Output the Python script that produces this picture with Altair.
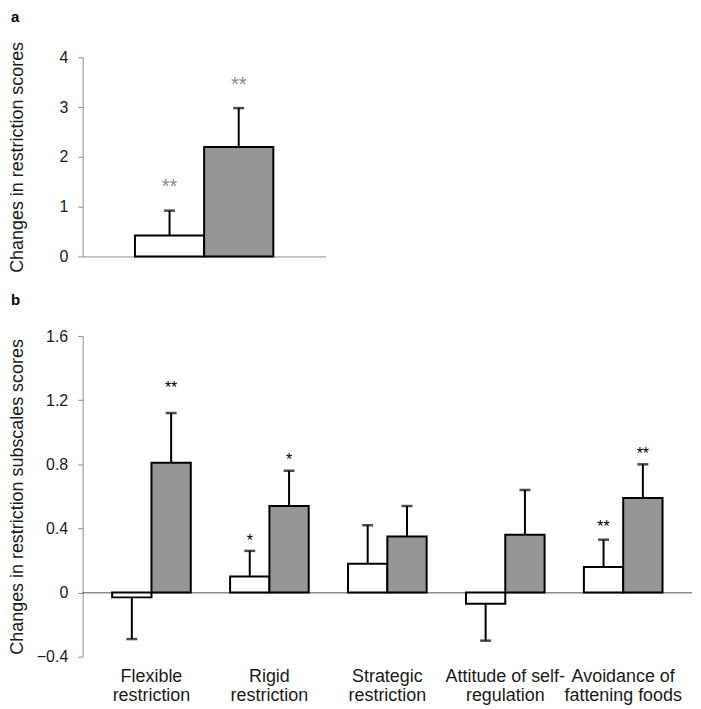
import altair as alt
import pandas as pd

FONT = "Liberation Sans"
AXIS_GRAY = "#8c8c8c"
TEXT_COLOR = "#1a1a1a"

groups = ["Group 1", "Group 2"]
bar_colors = ["#ffffff", "#969696"]

# ---- panel a ----
a_category = ["Restriction"]
a_values = [0.42, 2.20]
a_se = [0.50, 0.78]
a_sig = ["**", "**"]
a_sig_y = [1.46, 3.50]

# ---- panel b ----
b_categories = [
    "Flexible|restriction",
    "Rigid|restriction",
    "Strategic|restriction",
    "Attitude of self-|regulation",
    "Avoidance of|fattening foods",
]
b_values_1 = [-0.03, 0.10, 0.18, -0.07, 0.16]
b_se_1 = [0.26, 0.16, 0.24, 0.23, 0.17]
b_values_2 = [0.81, 0.54, 0.35, 0.36, 0.59]
b_se_2 = [0.31, 0.22, 0.19, 0.28, 0.21]
b_sig_1 = ["", "*", "", "", "**"]
b_sig_2 = ["**", "*", "", "", "**"]
b_sig_y_1 = [None, 0.345, None, None, 0.435]
b_sig_y_2 = [1.30, 0.85, None, None, 0.89]


def err_end(v, s):
    return v + s if v >= 0 else v - s


rows_a = []
for g, v, s, sig, sy in zip(groups, a_values, a_se, a_sig, a_sig_y):
    rows_a.append(dict(category=a_category[0], group=g, value=v,
                       err=err_end(v, s), sig=sig, sig_y=sy))
df_a = pd.DataFrame(rows_a)

rows_b = []
for i, c in enumerate(b_categories):
    rows_b.append(dict(category=c, group=groups[0], value=b_values_1[i],
                       err=err_end(b_values_1[i], b_se_1[i]),
                       sig=b_sig_1[i], sig_y=b_sig_y_1[i]))
    rows_b.append(dict(category=c, group=groups[1], value=b_values_2[i],
                       err=err_end(b_values_2[i], b_se_2[i]),
                       sig=b_sig_2[i], sig_y=b_sig_y_2[i]))
df_b = pd.DataFrame(rows_b)

color = alt.Color("group:N", scale=alt.Scale(domain=groups, range=bar_colors),
                  legend=None)
xoff = alt.XOffset("group:N", sort=groups,
                   scale=alt.Scale(paddingInner=0, paddingOuter=0))


def y_axis(values, title):
    return alt.Axis(values=values, format="~g", grid=False,
                    domainColor=AXIS_GRAY, tickColor=AXIS_GRAY, tickSize=5,
                    labelFontSize=16, labelColor=TEXT_COLOR, labelPadding=10,
                    title=title, titleFontSize=18, titleFontWeight="normal",
                    titleColor=TEXT_COLOR, titleX=-56, titleBaseline="bottom")


def panel_title(t, off):
    return alt.TitleParams(t, anchor="start", frame="group", dx=-72,
                           fontSize=15, fontWeight="bold", color="black",
                           offset=off)


# ---------- panel a ----------
xa = alt.X("category:N", sort=a_category,
           scale=alt.Scale(paddingInner=0, paddingOuter=0.378),
           axis=alt.Axis(labels=False, ticks=False, title=None,
                         domainColor=AXIS_GRAY))
ya_scale = alt.Scale(domain=[0, 4], nice=False)
base_a = alt.Chart(df_a).encode(x=xa, xOffset=xoff)

bars_a = base_a.mark_bar(stroke="black", strokeWidth=2).encode(
    y=alt.Y("value:Q", scale=ya_scale, stack=None,
            axis=y_axis([0, 1, 2, 3, 4], "Changes in restriction scores")),
    color=color,
)
rule_a = base_a.mark_rule(color="black", strokeWidth=2).encode(
    y=alt.Y("value:Q", scale=ya_scale), y2="err:Q")
cap_a = base_a.mark_tick(color="black", size=11, thickness=2.5).encode(
    y=alt.Y("err:Q", scale=ya_scale))
sig_a = base_a.mark_text(fontSize=20, color="#8a8a8a", baseline="alphabetic",
                         dy=9).encode(
    y=alt.Y("sig_y:Q", scale=ya_scale), text="sig:N")

panel_a = alt.layer(bars_a, rule_a, cap_a, sig_a).properties(
    width=244, height=200, title=panel_title("a", 16))

# ---------- panel b ----------
xb = alt.X("category:N", sort=b_categories,
           scale=alt.Scale(paddingInner=1 / 3, paddingOuter=0.25),
           axis=alt.Axis(domain=False, ticks=False, title=None,
                         labelExpr="split(datum.label, '|')",
                         labelFontSize=18, labelColor=TEXT_COLOR,
                         labelLineHeight=19, labelPadding=11, labelAngle=0))
yb_scale = alt.Scale(domain=[-0.4, 1.6], nice=False)
base_b = alt.Chart(df_b).encode(x=xb, xOffset=xoff)

zero_b = alt.Chart(df_b).mark_rule(color=AXIS_GRAY, strokeWidth=1).encode(
    y=alt.datum(0, scale=yb_scale))
bars_b = base_b.mark_bar(stroke="black", strokeWidth=2).encode(
    y=alt.Y("value:Q", scale=yb_scale, stack=None,
            axis=y_axis([-0.4, 0, 0.4, 0.8, 1.2, 1.6],
                        "Changes in restriction subscales scores")),
    color=color,
)
rule_b = base_b.mark_rule(color="black", strokeWidth=2).encode(
    y=alt.Y("value:Q", scale=yb_scale), y2="err:Q")
cap_b = base_b.mark_tick(color="black", size=11, thickness=2.5).encode(
    y=alt.Y("err:Q", scale=yb_scale))
sig_b = base_b.transform_filter("datum.sig_y != null").mark_text(
    fontSize=16, color="black", baseline="alphabetic", dy=9).encode(
    y=alt.Y("sig_y:Q", scale=yb_scale), text="sig:N")

panel_b = alt.layer(zero_b, bars_b, rule_b, cap_b, sig_b).properties(
    width=612, height=322, title=panel_title("b", 20))

chart = alt.vconcat(panel_a, panel_b, spacing=20).resolve_scale(
    xOffset="independent", x="independent", y="independent"
).properties(
    padding=0
).configure(font=FONT).configure_view(stroke=None)

chart.save("out.html", embed_options={"renderer": "svg", "actions": False})
